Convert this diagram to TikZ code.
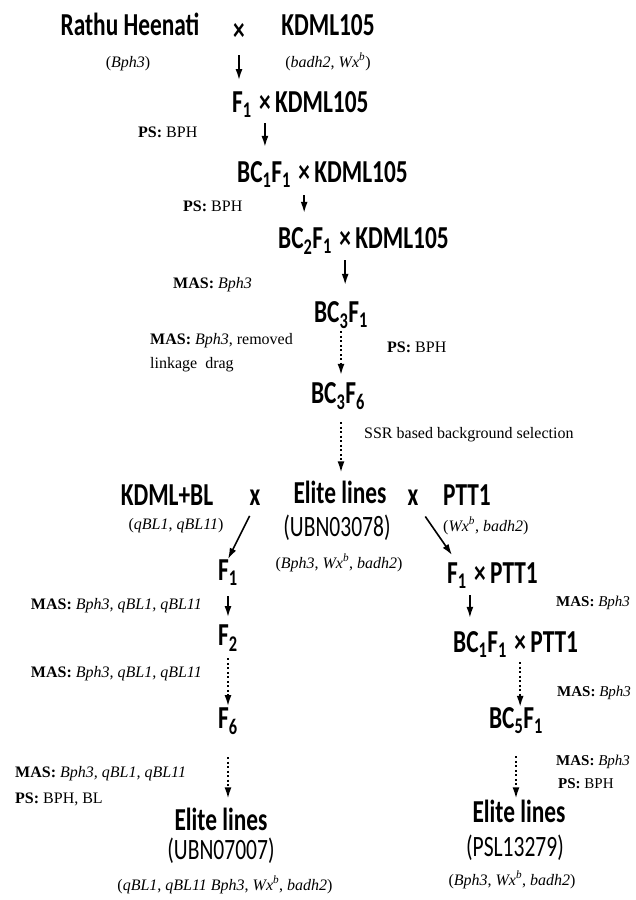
\documentclass[tikz,border=0pt]{standalone}
\usepackage{fontspec}
\setmainfont{Liberation Serif}
\newfontfamily\cfont[FakeStretch=0.73]{Carlito}
\usetikzlibrary{arrows.meta}
\newcommand\subs[1]{\textsubscript{#1}}
\newcommand\gi[1]{\textit{#1}}
\newcommand\wxb{\gi{Wx}\textsuperscript{\gi{b}}}
\begin{document}
\begin{tikzpicture}[x=1pt,y=-1pt,
 big/.style={font=\cfont\bfseries\fontsize{32}{35}\selectfont, inner sep=0pt, anchor=base},
 bigw/.style={big, anchor=base west},
 reg/.style={font=\cfont\fontsize{29.5}{32}\selectfont, inner sep=0pt, anchor=base},
 sm/.style={font=\fontsize{16}{19}\selectfont, inner sep=0pt, anchor=base},
 smw/.style={sm, anchor=base west},
 sme/.style={sm, anchor=base east},
 smr/.style={font=\fontsize{15}{18}\selectfont, inner sep=0pt, anchor=base west},
 arr/.style={-{Latex[length=11pt,width=7pt]}, line width=1.6pt},
 darr/.style={arr, dash pattern=on 2pt off 2.5pt},
]
\useasboundingbox[fill=white] (0,0) rectangle (635,900);
% top cross
\node[big] (rh) at (130,35) {Rathu Heenati};
\node[big] (x0) at (239,40) {×};
\node[big] (kd0) at (328,35) {KDML105};
\node[sm] (bph) at (128,67) {(\gi{Bph3})};
\node[sm] (bw) at (328,67) {(\gi{badh2}, \wxb)};
% backcross chain
\node[bigw] (f1) at (232,112) {F\subs{1}};
\node[bigw] (x1) at ([xshift=7pt]f1.base east) {×};
\node[bigw] (k1) at ([xshift=4pt]x1.base east) {KDML105};
\node[bigw] (bc1) at (237,182) {BC\subs{1}F\subs{1}};
\node[bigw] (x2) at ([xshift=7pt]bc1.base east) {×};
\node[bigw] (k2) at ([xshift=4pt]x2.base east) {KDML105};
\node[bigw] (bc2) at (278,248) {BC\subs{2}F\subs{1}};
\node[bigw] (x3) at ([xshift=7pt]bc2.base east) {×};
\node[bigw] (k3) at ([xshift=4pt]x3.base east) {KDML105};
\node[big] (bc3) at (341,322) {BC\subs{3}F\subs{1}};
\node[big] (bc36) at (338,403) {BC\subs{3}F\subs{6}};
% labels of chain
\node[smw] (ps1) at (138,137) {\textbf{PS:} BPH};
\node[smw] (ps2) at (183,211) {\textbf{PS:} BPH};
\node[smw] (mas1) at (173,288) {\textbf{MAS:} \gi{Bph3}};
\node[smw] (mas2) at (150,344) {\textbf{MAS:} \gi{Bph3}, removed};
\node[smw] (link) at (150,368) {linkage\ \ drag};
\node[smw] (ps3) at (387,352) {\textbf{PS:} BPH};
\node[smw] (ssr) at (364,438) {SSR based background selection};
% second crosses
\node[big] (kbl) at (167,505) {KDML+BL};
\node[big] (xl) at (255,505) {x};
\node[big] (el) at (340,503) {Elite lines};
\node[big] (xr) at (413,505) {x};
\node[big] (ptt) at (467,505) {PTT1};
\node[sm] (qbl) at (176,529) {(\gi{qBL1}, \gi{qBL11})};
\node[reg] (ubn1) at (337,536) {(UBN03078)};
\node[sm] (g1) at (339,568) {(\gi{Bph3}, \wxb, \gi{badh2})};
\node[smw] (wxr) at (443,531) {(\wxb, \gi{badh2})};
% left branch
\node[big] (lf1) at (228,580) {F\subs{1}};
\node[big] (lf2) at (228,645) {F\subs{2}};
\node[big] (lf6) at (228,728) {F\subs{6}};
\node[big] (el2) at (221,830) {Elite lines};
\node[reg] (ubn2) at (221,859) {(UBN07007)};
\node[sm] (g2) at (225,890) {(\gi{qBL1}, \gi{qBL11 Bph3}, \wxb, \gi{badh2})};
\node[sme] (lm1) at (202,609) {\textbf{MAS:} \gi{Bph3, qBL1, qBL11}};
\node[sme] (lm2) at (202,677) {\textbf{MAS:} \gi{Bph3, qBL1, qBL11}};
\node[smw] (lm3) at (15,777) {\textbf{MAS:} \gi{Bph3, qBL1, qBL11}};
\node[smw] (lps) at (15,803) {\textbf{PS:} BPH, BL};
% right branch
\node[bigw] (rf1) at (447,583) {F\subs{1}};
\node[bigw] (rx1) at ([xshift=7pt]rf1.base east) {×};
\node[bigw] (rp1) at ([xshift=4pt]rx1.base east) {PTT1};
\node[bigw] (rbc1) at (453,652) {BC\subs{1}F\subs{1}};
\node[bigw] (rx2) at ([xshift=7pt]rbc1.base east) {×};
\node[bigw] (rp2) at ([xshift=4pt]rx2.base east) {PTT1};
\node[big] (bc5) at (516,728) {BC\subs{5}F\subs{1}};
\node[big] (el3) at (519,822) {Elite lines};
\node[reg] (psl) at (515,856) {(PSL13279)};
\node[sm] (g3) at (512,885) {(\gi{Bph3}, \wxb, \gi{badh2})};
\node[smr] (rm1) at (556,606) {\textbf{MAS:} \gi{Bph3}};
\node[smr] (rm2) at (557,696) {\textbf{MAS:} \gi{Bph3}};
\node[smr] (rm3) at (556,765) {\textbf{MAS:} \gi{Bph3}};
\node[smr] (rps) at (558,788) {\textbf{PS:} BPH};
% arrows
\draw[arr, shorten <=15pt, shorten >=11pt] (x0.base) -- (x0.base |- f1.north);
\draw[arr, shorten <=11pt, shorten >=14pt] (x1.base) -- (x1.base |- bc1.north);
\draw[arr, shorten <=13pt, shorten >=14pt] (x2.base) -- (x2.base |- bc2.north);
\draw[arr, shorten <=12pt, shorten >=16pt] (x3.base) -- (x3.base |- bc3.north);
\draw[darr, shorten <=3pt, shorten >=7pt] (bc3.south) -- (bc3.south |- bc36.north);
\draw[darr, shorten <=12pt, shorten >=8pt] (bc3.south |- bc36.south) -- (bc3.south |- el.north);
\draw[arr, shorten <=12pt] (xl.south) -- (lf1.north);
\draw[arr, shorten <=4pt] ([shift={(10pt,-8pt)}]xr.south) -- ([shift={(5pt,7pt)}]rf1.north west);
\draw[arr, shorten <=10pt, shorten >=7pt] (lf1.south) -- (lf2.north);
\draw[darr, shorten <=7pt, shorten >=1pt] (lf2.south) -- (lf6.north);
\draw[darr, shorten <=22pt, shorten >=9pt] (lf6.south) -- (lf6.south |- el2.north);
\draw[arr, shorten <=12pt, shorten >=13pt] ([xshift=3pt]rf1.base east) -- ([xshift=3pt]rf1.base east |- rbc1.north);
\draw[darr, shorten <=10pt, shorten >=0pt] (rx2.base) -- (rx2.base |- bc5.north);
\draw[darr, shorten <=22pt, shorten >=1pt] (bc5.south) -- (bc5.south |- el3.north);
\end{tikzpicture}
\end{document}
